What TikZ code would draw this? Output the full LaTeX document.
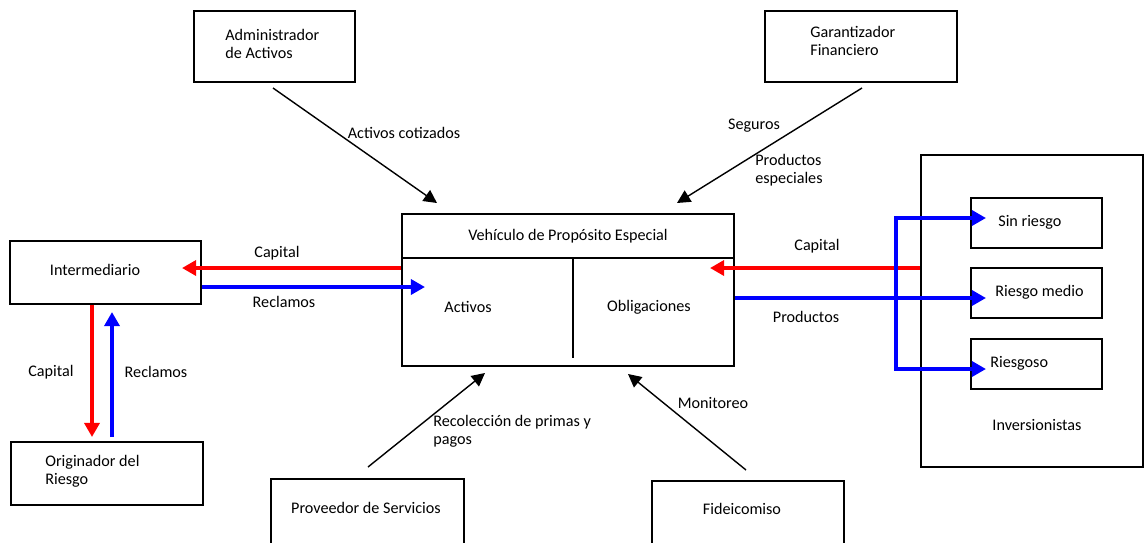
\documentclass[tikz,border=0pt]{standalone}
\usepackage{fontspec}
\setmainfont{Carlito}
\usetikzlibrary{arrows.meta}
\definecolor{rojo}{RGB}{255,0,0}
\definecolor{azul}{RGB}{0,0,255}
\tikzset{
  punta/.tip={Triangle[length=8pt,width=8.5pt]},
  puntanegra/.tip={Triangle[length=7.5pt,width=7.5pt]},
  caja/.style 2 args={draw, line width=1pt, inner sep=0pt,
    minimum width=#1*0.02cm, minimum height=#2*0.02cm},
  texto/.style={inner sep=0pt, align=left},
  flecha/.style={line width=0.8pt, -puntanegra},
  flujo/.style={line width=2.3pt, -punta}
}

\begin{document}
\begin{tikzpicture}[x=0.02cm, y=-0.02cm,
  every node/.style={font=\fontsize{9.2}{10.4}\selectfont}]
  \useasboundingbox (0,0) rectangle (1144,542);

  % --- cajas de los participantes -------------------------------------------
  \node[caja={161}{71}]  (adm)   at (274.5,46.5) {};
  \node[caja={192}{71}]  (gar)   at (861,46.5)   {};
  \node[caja={191}{63}]  (inter) at (105.5,272.5) {};
  \node[caja={192}{63}]  (orig)  at (107,473.5)  {};
  \node[caja={332}{152}] (vpe)   at (568,290)    {};
  \node[caja={193}{70}]  (prov)  at (367.5,514)  {};
  \node[caja={192}{68}]  (fid)   at (748,515)    {};
  \node[caja={222}{312}] (inv)   at (1032,311)   {};

  % textos de las cajas
  \node[texto, anchor=west] (admtxt) at (225,44) {Administrador\\de Activos};
  \node[texto, anchor=west] (gartxt) at (810,41) {Garantizador\\Financiero};
  \node[texto] (intertxt) at (95,270) {Intermediario};
  \node[texto, anchor=west] (origtxt) at (45,471) {Originador del\\Riesgo};
  \node[texto] (provtxt) at (366,508) {Proveedor de Servicios};
  \node[texto] (fidtxt)  at (742,509) {Fideicomiso};
  \node[texto] (invtxt)  at (1037,425) {Inversionistas};

  % --- vehiculo: titulo, activos y obligaciones ------------------------------
  \coordinate (vdiv) at (573,258);
  \coordinate (vfin) at (573,358);
  \draw[line width=1pt] (vpe.west |- vdiv) -- (vpe.east |- vdiv);
  \draw[line width=1pt] (vdiv) -- (vfin);
  \node[texto] (vpetxt) at (568,236) {Vehículo de Propósito Especial};
  \node[texto] (act)    at (468,307) {Activos};
  \node[texto] (obl)    at (649,307) {Obligaciones};

  % --- tramos de inversionistas ------------------------------------------------
  \foreach \n/\y/\x/\t in {sin/223/998/Sin riesgo, med/293/995/Riesgo medio, rgo/364/990/Riesgoso} {
    \node[caja={131}{50}] (\n) at (1036.5,\y) {};
    \node[texto, anchor=west] (\n txt) at (\x,\y-1) {\t};
  }

  % --- flechas negras ---------------------------------------------------------
  \coordinate (admsal) at (273,88);
  \coordinate (admlle) at (437,203);
  \coordinate (garsal) at (862,88);
  \coordinate (garlle) at (677,203);
  \coordinate (provsal) at (368,467);
  \coordinate (provlle) at (485,373);
  \coordinate (fidsal) at (746,470);
  \coordinate (fidlle) at (628,374);
  \draw[flecha] (admsal) -- (admlle);
  \draw[flecha] (garsal) -- (garlle);
  \draw[flecha] (provsal) -- (provlle);
  \draw[flecha] (fidsal) -- (fidlle);
  \node[texto] (cotiz) at (404,133) {Activos cotizados};
  \node[texto] (seg)   at (754,126) {Seguros};
  \node[texto, anchor=west] (prodesp) at (755,170) {Productos\\especiales};
  \node[texto, anchor=west] (recol) at (433,431) {Recolección de primas y\\pagos};
  \node[texto] (monit) at (713,403) {Monitoreo};

  % --- capital (rojo) y reclamos / productos (azul) ---------------------------
  \coordinate (capI) at (182,268);
  \coordinate (recV) at (425,287);
  \coordinate (capO) at (92,437);
  \coordinate (recO) at (112,437);
  \coordinate (recI) at (112,312);
  \coordinate (capV) at (710,268);
  \coordinate (psin) at (986,218);
  \coordinate (pmed) at (986,298);
  \coordinate (prgo) at (986,369);
  \coordinate (ramal) at (896,0);
  \draw[flujo, rojo] (vpe.west |- capI) -- (capI);
  \draw[flujo, azul] (inter.east |- recV) -- (recV);
  \draw[flujo, rojo] (inter.south -| capO) -- (capO);
  \draw[flujo, azul] (recO) -- (recI);
  \draw[flujo, rojo] (inv.west |- capV) -- (capV);
  \draw[flujo, azul] (vpe.east |- pmed) -- (pmed);
  \draw[flujo, azul, punta-punta] (psin) -| (ramal |- prgo) -- (prgo);
  \node[texto] (capItxt) at (277,253) {Capital};
  \node[texto] (recVtxt) at (284,302) {Reclamos};
  \node[texto] (capOtxt) at (51,372)  {Capital};
  \node[texto] (recOtxt) at (156,372) {Reclamos};
  \node[texto] (capVtxt) at (817,246) {Capital};
  \node[texto] (prodtxt) at (806,317) {Productos};

\end{tikzpicture}
\end{document}
